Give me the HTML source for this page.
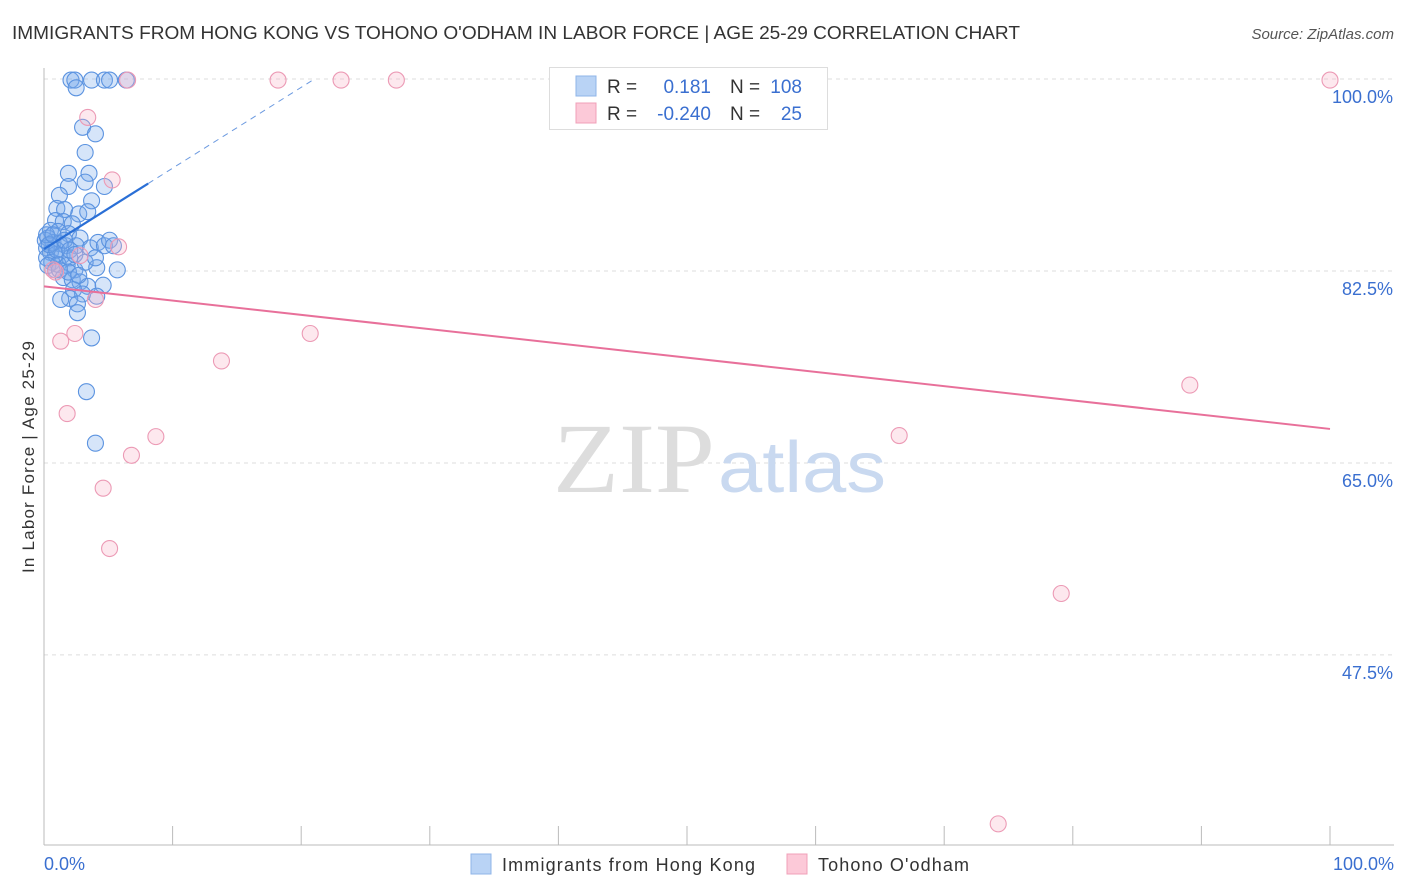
<!DOCTYPE html>
<html><head><meta charset="utf-8">
<style>
body{margin:0;background:#fff;font-family:"Liberation Sans",sans-serif;}
svg{display:block}
</style></head>
<body>
<svg id="chart" width="1406" height="892">
<text x="12" y="39" font-size="18" fill="#333" textLength="1008" lengthAdjust="spacingAndGlyphs">IMMIGRANTS FROM HONG KONG VS TOHONO O'ODHAM IN LABOR FORCE | AGE 25-29 CORRELATION CHART</text>
<text x="1394" y="39" font-size="15" fill="#555" font-style="italic" text-anchor="end">Source: ZipAtlas.com</text>
<text transform="translate(34,457) rotate(-90)" font-size="17" fill="#333" text-anchor="middle" textLength="232">In Labor Force | Age 25-29</text>
<g id="grid"></g>
<line x1="44" y1="68" x2="44" y2="845" stroke="#bbb"/>
<line x1="44" y1="845" x2="1394" y2="845" stroke="#bbb"/>
<g id="xticks"></g>
<text x="553" y="492" font-size="100" fill="#ddd" font-family="Liberation Serif,serif" textLength="162" lengthAdjust="spacingAndGlyphs">ZIP</text>
<text x="718" y="492" font-size="72" fill="#c9d9f0" textLength="168" lengthAdjust="spacingAndGlyphs">atlas</text>
<g id="pts"></g>
<g id="lines"></g>
<text x="44" y="870" font-size="18" fill="#3a6fd0">0.0%</text>
<text x="1394" y="870" font-size="18" fill="#3a6fd0" text-anchor="end">100.0%</text>
<g>
<rect x="549.5" y="67.5" width="278" height="62" fill="#fff" stroke="#ddd"/>
<rect x="576" y="76" width="20" height="20" fill="#b9d3f5" stroke="#8fb4e8"/>
<rect x="576" y="103" width="20" height="20" fill="#fcc9d8" stroke="#f0a0b8"/>
<text x="607" y="93" font-size="19" fill="#333">R = </text>
<text x="711" y="93" font-size="19" fill="#3a6fd0" text-anchor="end">0.181</text>
<text x="730" y="93" font-size="19" fill="#333">N = </text>
<text x="802" y="93" font-size="19" fill="#3a6fd0" text-anchor="end">108</text>
<text x="607" y="120" font-size="19" fill="#333">R = </text>
<text x="711" y="120" font-size="19" fill="#3a6fd0" text-anchor="end">-0.240</text>
<text x="730" y="120" font-size="19" fill="#333">N = </text>
<text x="802" y="120" font-size="19" fill="#3a6fd0" text-anchor="end">25</text>
</g>
<g>
<rect x="471" y="854" width="20" height="20" fill="#b9d3f5" stroke="#8fb4e8"/>
<text x="502" y="871" font-size="18" fill="#333" textLength="253">Immigrants from Hong Kong</text>
<rect x="787" y="854" width="20" height="20" fill="#fcc9d8" stroke="#f0a0b8"/>
<text x="818" y="871" font-size="18" fill="#333" textLength="151">Tohono O'odham</text>
</g>
</svg>
<script>
const yTicks=[100,82.5,65,47.5];
const yTickLabels=["100.0%","82.5%","65.0%","47.5%"];
const blueX=[2.1,2.4,3.7,4.7,5.1,6.4,2.5,3.0,4.0,3.2,1.9,3.5,4.7,1.9,1.2,3.2,3.7,1.0,1.6,2.7,3.4,0.9,1.5,2.2,0.5,1.1,1.9,2.8,0.3,0.7,1.2,1.7,2.5,3.6,4.2,4.7,5.1,5.4,0.2,0.5,0.9,1.4,2.0,0.2,0.6,1.1,1.8,2.4,4.1,5.7,0.3,0.9,1.5,2.2,2.8,3.4,4.6,2.3,3.0,4.1,2.0,1.3,2.6,2.6,3.7,3.3,4.0,0.1,0.2,0.4,0.7,1.0,1.6,2.0,2.4,3.2,4.0,1.2,1.9,2.7];
const blueY=[99.9,99.9,99.9,99.9,99.9,99.9,99.2,95.6,95.0,93.3,91.4,91.4,90.2,90.2,89.4,90.6,88.9,88.2,88.1,87.7,87.9,87.1,87.0,86.8,86.2,86.1,85.9,85.5,85.5,85.1,85.0,84.8,84.8,84.6,85.1,84.8,85.3,84.8,84.6,84.2,84.0,83.9,83.7,83.7,83.3,83.1,83.0,82.6,82.8,82.6,83.0,82.6,81.9,81.7,81.5,81.1,81.2,80.8,80.4,80.2,80.0,79.9,79.5,78.7,76.4,71.5,66.8,85.3,85.8,84.9,85.8,84.4,85.3,84.4,84.0,83.3,83.7,82.6,82.4,82.1];
const pinkX=[6.5,18.2,23.1,27.4,100,3.4,5.3,5.8,2.8,0.7,0.9,4.0,1.3,2.4,13.8,20.7,89.1,1.8,8.7,6.8,66.5,4.6,5.1,79.1,74.2];
const pinkY=[99.9,99.9,99.9,99.9,99.9,96.5,90.8,84.7,83.9,82.6,82.4,79.9,76.1,76.8,74.3,76.8,72.1,69.5,67.4,65.7,67.5,62.7,57.2,53.1,32.1];
const blueLine=[84.5,0.737];
const pinkLine=[81.1,-0.13];
const NS="http://www.w3.org/2000/svg";
const xs=v=>44+v*12.86;
const ys=v=>79+(100-v)*10.97;
function mk(tag,attrs,parent){const e=document.createElementNS(NS,tag);for(const k in attrs)e.setAttribute(k,attrs[k]);document.getElementById(parent).appendChild(e);return e;}
yTicks.forEach((t,i)=>{
 const l=mk('line',{x1:44,x2:1394,y1:ys(t),y2:ys(t),stroke:'#ddd','stroke-dasharray':'4,4'},'grid');
 
 
 const tx=mk('text',{x:1393,y:ys(t)+24,'font-size':18,fill:'#3a6fd0','text-anchor':'end'},'grid');
 tx.textContent=yTickLabels[i];
 
 
});
for(let i=1;i<=10;i++){
 const l=mk('line',{x1:xs(i*10),x2:xs(i*10),y1:826,y2:845,stroke:'#bbb'},'xticks');
 
 
}
blueX.forEach((x,i)=>{
 const c=mk('circle',{cx:xs(x),cy:ys(blueY[i]),r:8,fill:'rgba(120,170,235,0.3)',stroke:'#5b93e0','stroke-width':1.1},'pts');
 
 
});
pinkX.forEach((x,i)=>{
 const c=mk('circle',{cx:xs(x),cy:ys(pinkY[i]),r:8,fill:'rgba(250,180,200,0.3)',stroke:'#ec9ab5','stroke-width':1.1},'pts');
 
 
});
const bl=v=>blueLine[0]+blueLine[1]*v;
let l1=mk('line',{x1:xs(0),y1:ys(bl(0)),x2:xs(8.1),y2:ys(bl(8.1)),stroke:'#2a6fd6','stroke-width':2.2},'lines');


const xe=(100-blueLine[0])/blueLine[1];
let l2=mk('line',{x1:xs(8.1),y1:ys(bl(8.1)),x2:xs(xe),y2:ys(100),stroke:'#6c9ae0','stroke-width':1,'stroke-dasharray':'6,5'},'lines');


const pl=v=>pinkLine[0]+pinkLine[1]*v;
let l3=mk('line',{x1:xs(0),y1:ys(pl(0)),x2:xs(100),y2:ys(pl(100)),stroke:'#e8709a','stroke-width':2},'lines');


</script>
</body></html>
